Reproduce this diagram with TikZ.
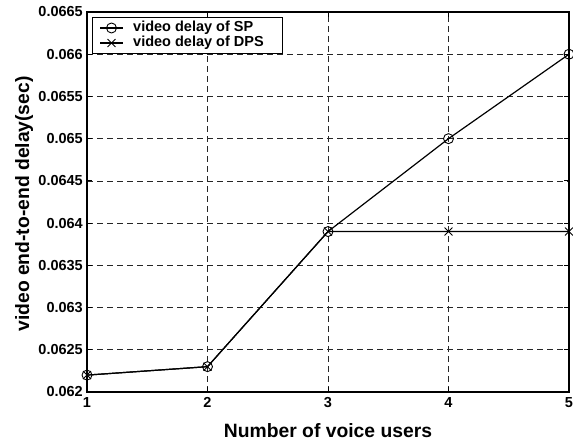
\documentclass[tikz,border=0pt]{standalone}
\usepackage{fontspec}
\setmainfont{Liberation Sans}
\usetikzlibrary{shapes.misc}
\begin{document}
\begin{tikzpicture}[x=1pt,y=1pt,
  gridline/.style={dash pattern=on 6pt off 4pt, line width=0.7pt, black!85},
  frame/.style={line width=1.2pt},
  curve/.style={line width=1.2pt},
  circmark/.style={circle, draw, line width=0.9pt, minimum size=10pt, inner sep=0pt},
  xmark/.style={cross out, draw, line width=0.9pt, minimum size=7pt, inner sep=0pt},
  ticklab/.style={font=\fontsize{14.5}{16}\selectfont\bfseries, inner sep=1pt},
  leglab/.style={font=\fontsize{14.5}{16}\selectfont\bfseries, inner sep=2pt, anchor=west},
  axlab/.style={font=\fontsize{19.3}{22}\selectfont\bfseries, inner sep=0pt}]
\useasboundingbox[fill=white] (0,0) rectangle (573,444);

% plot area in data units: x = users - 1, y = (delay - 0.062) * 10^4
\begin{scope}[shift={(87,52)}, x=120.5pt, y=8.4444pt]
  % grid
  \foreach \i in {1,2,3}
    \draw[gridline] (\i,0) -- (\i,45);
  \foreach \j in {5,10,...,40}
    \draw[gridline] (0,\j) -- (4,\j);
  % inward ticks
  \foreach \i in {1,2,3} {
    \draw[line width=0.8pt] (\i,0) -- ++(0,5pt);
    \draw[line width=0.8pt] (\i,45) -- ++(0,-5pt);
  }
  \foreach \j in {5,10,...,40} {
    \draw[line width=0.8pt] (0,\j) -- ++(5pt,0);
    \draw[line width=0.8pt] (4,\j) -- ++(-5pt,0);
  }
  % frame
  \draw[frame] (0,0) rectangle (4,45);

  % tick labels
  \foreach \i/\t in {0/1,1/2,2/3,3/4,4/5}
    \node[ticklab, anchor=base] (xt\t) at ([yshift=-16pt]\i,0) {\t};
  \foreach \j/\t in {0/0.062,5/0.0625,10/0.063,15/0.0635,20/0.064,
                     25/0.0645,30/0.065,35/0.0655,40/0.066,45/0.0665}
    \node[ticklab, anchor=east] (yt\j) at ([xshift=-3pt]0,\j) {\t};

  % data points
  \coordinate (sp1) at (0,2);
  \coordinate (sp2) at (1,3);
  \coordinate (sp3) at (2,19);
  \coordinate (sp4) at (3,30);
  \coordinate (sp5) at (4,40);
  \coordinate (dp1) at (0,2);
  \coordinate (dp2) at (1,3);
  \coordinate (dp3) at (2,19);
  \coordinate (dp4) at (3,19);
  \coordinate (dp5) at (4,19);

  % curves
  \draw[curve] (sp1) -- (sp2) -- (sp3) -- (sp4) -- (sp5);
  \draw[curve] (dp1) -- (dp2) -- (dp3) -- (dp4) -- (dp5);
  \foreach \k in {1,...,5} {
    \node[circmark] (spm\k) at (sp\k) {};
    \node[xmark] (dpm\k) at (dp\k) {};
  }
\end{scope}

% axis labels
\node[axlab, anchor=base] (xlabel) at (328,6) {Number of voice users};
\node[axlab, anchor=base, rotate=90] (ylabel) at (29,240) {video end-to-end delay(sec)};

% legend
\draw[line width=0.9pt, fill=white] (92,391) rectangle (282,427);
\coordinate (la1) at (100,416);
\coordinate (lb1) at (123,416);
\coordinate (la2) at (100,401);
\coordinate (lb2) at (123,401);
\draw[curve] (la1) -- (lb1);
\draw[curve] (la2) -- (lb2);
\node[circmark] (legm1) at (111.5,416) {};
\node[xmark] (legm2) at (111.5,401) {};
\node[leglab] (legt1) at (131,416) {video delay of SP};
\node[leglab] (legt2) at (131,401) {video delay of DPS};
\end{tikzpicture}
\end{document}
